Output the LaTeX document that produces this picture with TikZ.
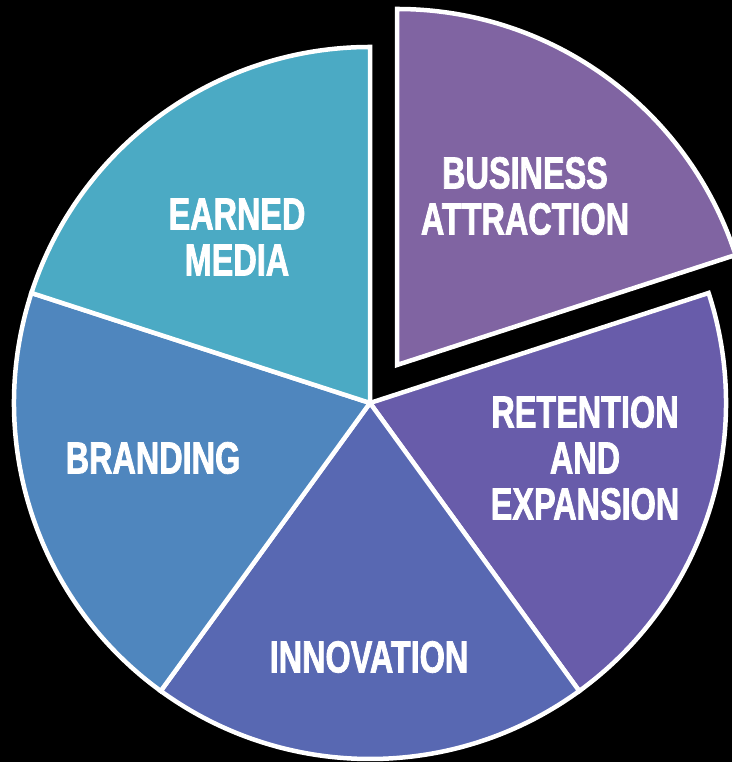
\documentclass[tikz,border=0pt]{standalone}
\usepackage{fontspec}
\setmainfont{Liberation Sans}[FakeStretch=0.72,BoldFeatures={FakeBold=1.6}]
\usepackage{tikz}

\definecolor{attractcol}{RGB}{128,100,162}
\definecolor{retaincol}{RGB}{104,92,170}
\definecolor{innovcol}{RGB}{88,104,178}
\definecolor{brandcol}{RGB}{79,134,190}
\definecolor{mediacol}{RGB}{75,170,196}

\tikzset{
  slice/.style={draw=white, line width=4.5pt, line join=miter},
  label/.style={text=white, font=\fontsize{45}{46}\selectfont\bfseries, align=center, inner sep=0pt}
}

\begin{document}
\begin{tikzpicture}[x=1pt,y=1pt]
    \fill[black] (0,0) rectangle (732,762);
    \useasboundingbox (0,0) rectangle (732,762);

    \coordinate (mid) at (370,359);
    \coordinate (out) at (397,397);

    % the four slices that stay in place
    \draw[slice, fill=retaincol] (mid) -- ++(-54:356pt) arc[start angle=-54, end angle=18, radius=356pt] -- cycle;
    \draw[slice, fill=innovcol] (mid) -- ++(-126:356pt) arc[start angle=-126, end angle=-54, radius=356pt] -- cycle;
    \draw[slice, fill=brandcol] (mid) -- ++(162:356pt) arc[start angle=162, end angle=234, radius=356pt] -- cycle;
    \draw[slice, fill=mediacol] (mid) -- ++(90:356pt) arc[start angle=90, end angle=162, radius=356pt] -- cycle;
    % pulled out slice
    \draw[slice, fill=attractcol] (out) -- ++(18:356pt) arc[start angle=18, end angle=90, radius=356pt] -- cycle;

    \node[label] (attract) at (525,566) {BUSINESS\\ATTRACTION};
    \node[label] (retain) at (585,304) {RETENTION\\AND\\EXPANSION};
    \node[label] (innov) at (369,105) {INNOVATION};
    \node[label] (brand) at (153,304) {BRANDING};
    \node[label] (media) at (237,525) {EARNED\\MEDIA};
  \end{tikzpicture}
\end{document}
